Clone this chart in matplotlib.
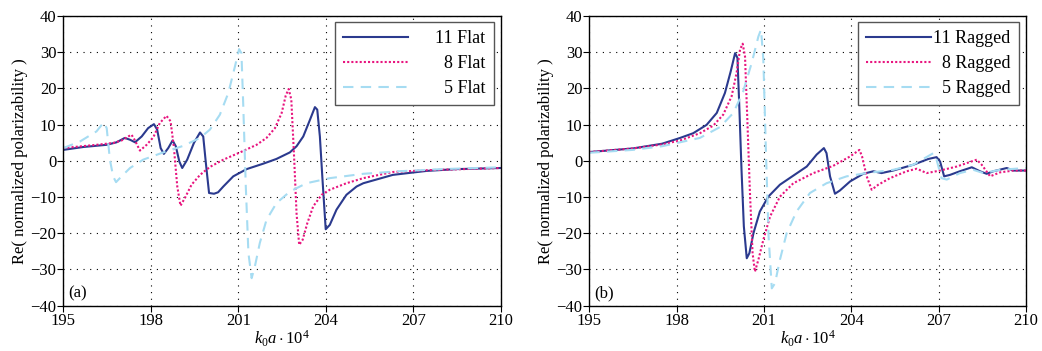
import matplotlib
matplotlib.use("Agg")
import matplotlib.pyplot as plt

plt.rcParams["font.family"] = ["Liberation Serif", "DejaVu Serif"]
plt.rcParams["mathtext.fontset"] = "custom"
plt.rcParams["mathtext.rm"] = "Liberation Serif"
plt.rcParams["mathtext.it"] = "Liberation Serif:italic"

# ---- panel (a): flat ----
x11f = [195.0, 195.69, 196.49, 196.83, 197.11, 197.29, 197.46, 197.69, 197.91, 198.11, 198.22,
        198.34, 198.45, 198.6, 198.75, 198.86, 198.98, 199.08, 199.25, 199.48, 199.69, 199.8,
        199.89, 200.0, 200.17, 200.31, 200.49, 200.83, 201.29, 201.86, 202.31, 202.77, 203.0,
        203.23, 203.46, 203.63, 203.71, 203.8, 203.89, 204.0, 204.14, 204.37, 204.71, 205.06,
        205.29, 206.3, 207.46, 208.5, 210.0]
y11f = [3.0, 3.8, 4.4, 5.1, 6.3, 5.8, 5.1, 6.7, 9.0, 10.1, 8.6,
        3.5, 1.9, 3.5, 5.6, 4.0, -0.2, -2.0, 0.3, 4.9, 7.8, 6.7,
        -0.6, -8.9, -9.1, -8.7, -7.1, -4.3, -2.3, -0.8, 0.5, 2.3, 4.0,
        6.7, 11.3, 14.8, 14.1, 6.7, -5.2, -18.9, -17.7, -13.5, -9.4, -7.1,
        -6.2, -3.9, -2.8, -2.3, -2.0]

x8f = [195.0, 196.14, 196.71, 197.0, 197.23, 197.34, 197.46, 197.63, 197.86, 198.09, 198.31,
       198.54, 198.68, 198.79, 198.91, 199.02, 199.17, 199.4, 199.69, 200.03, 200.49, 201.06,
       201.63, 201.97, 202.26, 202.49, 202.63, 202.73, 202.82, 202.91, 203.0, 203.09, 203.21,
       203.37, 203.57, 203.86, 204.14, 204.71, 205.29, 206.3, 207.5, 210.0]
y8f = [3.5, 4.4, 4.9, 5.6, 6.7, 7.2, 5.6, 2.8, 4.4, 6.5, 10.4,
       12.4, 10.9, 4.0, -7.1, -12.4, -10.3, -6.6, -3.9, -1.7, 0.3, 2.3,
       4.4, 6.3, 9.0, 13.2, 18.0, 19.8, 16.9, 2.1, -14.5, -23.2, -21.8,
       -17.2, -12.6, -9.4, -8.0, -6.2, -4.8, -3.1, -2.6, -2.0]

x5f = [195.0, 195.57, 196.14, 196.39, 196.49, 196.6, 196.71, 196.81, 197.0, 197.29, 197.74,
       198.43, 199.11, 199.69, 200.03, 200.37, 200.66, 200.89, 201.03, 201.11, 201.17, 201.26,
       201.35, 201.46, 201.57, 201.74, 201.97, 202.31, 202.77, 203.34, 204.14, 205.29, 206.5,
       208.0, 210.0]
y5f = [3.5, 5.3, 8.1, 10.6, 9.0, 0.3, -4.3, -5.9, -4.3, -2.0, 0.3,
       2.3, 4.1, 6.3, 8.6, 12.7, 18.7, 26.1, 30.8, 29.7, 15.9, -7.1,
       -25.5, -32.4, -29.2, -22.7, -16.3, -11.7, -8.5, -6.2, -4.8, -3.6, -2.9,
       -2.3, -1.8]

# ---- panel (b): ragged ----
x11r = [195.0, 196.5, 197.5, 198.12, 198.57, 199.03, 199.38, 199.66, 199.86, 200.01, 200.09,
        200.15, 200.23, 200.31, 200.41, 200.5, 200.64, 200.86, 201.15, 201.55, 202.01, 202.47,
        202.81, 203.06, 203.15, 203.27, 203.44, 203.61, 203.96, 204.41, 204.76, 205.04, 205.44,
        206.13, 206.65, 206.93, 207.05, 207.19, 207.39, 207.73, 208.14, 208.42, 208.65, 208.88,
        209.34, 209.57, 210.0]
y11r = [2.4, 3.4, 4.7, 6.3, 7.6, 9.9, 13.2, 18.7, 24.7, 29.7, 28.4,
        15.9, -2.5, -18.1, -26.9, -25.5, -20.0, -14.0, -9.9, -6.6, -4.1, -1.6,
        1.7, 3.5, 2.1, -4.3, -9.1, -8.2, -5.7, -3.6, -2.9, -3.4, -2.7,
        -1.1, 0.5, 1.0, -0.2, -4.3, -3.9, -2.9, -1.8, -2.9, -3.6, -2.9,
        -2.0, -2.7, -2.7]

x8r = [195.0, 196.5, 197.5, 198.12, 198.8, 199.26, 199.6, 199.89, 200.06, 200.18, 200.27,
       200.35, 200.43, 200.52, 200.61, 200.69, 200.81, 200.98, 201.21, 201.55, 202.01, 202.7,
       203.38, 203.96, 204.28, 204.37, 204.53, 204.7, 204.93, 205.33, 205.9, 206.25, 206.59,
       207.05, 207.62, 208.31, 208.48, 208.77, 209.11, 209.57, 210.0]
y8r = [2.4, 3.4, 4.5, 5.6, 7.6, 9.7, 12.7, 17.8, 24.2, 30.7, 32.3,
       28.8, 11.3, -8.9, -25.5, -30.6, -27.3, -21.8, -15.4, -9.9, -6.2, -3.4,
       -1.4, 1.2, 3.0, 1.2, -4.3, -8.0, -6.6, -4.8, -2.9, -2.2, -3.4,
       -2.7, -1.6, 0.3, -1.1, -4.3, -3.2, -2.7, -2.7]

x5r = [195.0, 196.5, 197.5, 198.12, 198.8, 199.49, 199.95, 200.29, 200.58, 200.81, 200.9,
       200.98, 201.07, 201.16, 201.27, 201.38, 201.55, 201.78, 202.12, 202.58, 203.15, 203.84,
       204.53, 205.44, 206.13, 206.82, 206.93, 207.1, 207.28, 207.73, 208.19, 208.54, 209.11,
       210.0]
y5r = [2.2, 3.0, 4.0, 5.1, 6.3, 9.3, 13.2, 19.2, 27.0, 34.3, 36.2,
       27.9, 2.1, -20.9, -35.2, -33.8, -27.3, -20.0, -14.0, -8.9, -6.2, -4.3,
       -3.4, -2.5, -1.1, 2.1, 0.3, -4.8, -5.2, -3.4, -2.5, -3.4, -2.5,
       -2.0]

navy = "#2b3a8e"
pink = "#e8157f"
sky = "#a6dcf2"

fig = plt.figure(figsize=(10.42, 3.51), dpi=100)
ax_a = fig.add_axes([0.0607, 0.129, 0.4198, 0.826])
ax_b = fig.add_axes([0.5655, 0.129, 0.4191, 0.826])

panels = [
    (ax_a, "(a)", [(x11f, y11f), (x8f, y8f), (x5f, y5f)],
     ["11 Flat", "\u20078 Flat", "\u20075 Flat"], 1.5),
    (ax_b, "(b)", [(x11r, y11r), (x8r, y8r), (x5r, y5r)],
     ["11 Ragged", "\u20078 Ragged", "\u20075 Ragged"], 0.1),
]

for ax, tag, series, labels, pad in panels:
    (xa, ya), (xb, yb), (xc, yc) = series
    ax.plot(xa, ya, color=navy, lw=1.5, label=labels[0])
    ax.plot(xb, yb, color=pink, lw=1.5, linestyle=(0, (1, 1)), label=labels[1])
    ax.plot(xc, yc, color=sky, lw=1.5, linestyle=(0, (5, 3.5)), label=labels[2])

    ax.set_xlim(195, 210)
    ax.set_ylim(-40, 40)
    ax.set_xticks([195, 198, 201, 204, 207, 210])
    ax.set_yticks(range(-40, 41, 10))
    ax.grid(True, linestyle=(0, (1, 5)), color="black", lw=0.8)
    ax.tick_params(direction="out", length=4, labelsize=12, pad=1)
    for s in ax.spines.values():
        s.set_linewidth(1.0)

    ax.set_xlabel(r"$\mathit{k_0a}\cdot10^4$", fontsize=12, labelpad=0)
    ax.set_ylabel("Re( normalized polarizability )", fontsize=12, labelpad=2)
    ax.text(0.012, 0.03, tag, transform=ax.transAxes, fontsize=12)

    leg = ax.legend(loc="upper right", fontsize=13, handlelength=3.6,
                    handletextpad=pad, labelspacing=0.45, borderpad=0.45,
                    borderaxespad=0, fancybox=False, framealpha=1,
                    edgecolor="#555555", bbox_to_anchor=(0.984, 0.979))
    leg.get_frame().set_linewidth(1.0)

fig.savefig("out.png", dpi=100)
